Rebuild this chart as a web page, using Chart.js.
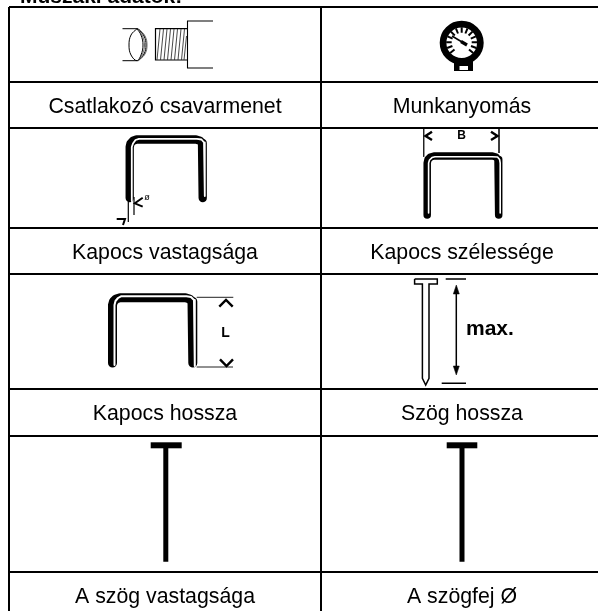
<!DOCTYPE html>
<html><head><meta charset="utf-8">
<style>html,body{margin:0;padding:0;background:#fff;overflow:hidden}canvas{display:block}</style>
<script src="https://cdn.jsdelivr.net/npm/chart.js@4"></script>
</head><body><canvas id="c" width="598" height="611"></canvas>
<script>
// Table rules
const rowLines = [7, 82, 128, 228, 274, 389, 436, 572];
const colLines = [9, 321];
// Text labels [text, x, baseline y]
const title = ['Műszaki adatok:', 20, 3];
const captions = [
  ['Csatlakozó csavarmenet', 165, 113], ['Munkanyomás', 462, 113],
  ['Kapocs vastagsága', 165, 259], ['Kapocs szélessége', 462, 259],
  ['Kapocs hossza', 165, 420], ['Szög hossza', 462, 420],
  ['A szög vastagsága', 165, 603], ['A szögfej Ø', 462, 603]
];
const marks = [['ø', 147, 198, 9, 'normal'], ['B', 461.5, 136, 12, 'bold'], ['L', 225.5, 333, 14, 'bold'], ['max.', 466, 329, 21, 'bold']];

// Connector
const pipeLines = [[122.5,28.7],[138,28.7],null,[122.5,60.7],[138,60.7]];
const threadFront = [[137,28.7],[131,35],[129,45],[131,55],[137,60.7],[141,55],[143,45],[141,35],[137,28.7]];
const threadArcA = [[138,28.7],[144,36],[146,45],[144,54],[138,60.7]];
const threadArcB = [[137.5,28.7],[142.5,36],[144.5,45],[142.5,54],[137.5,60.7]];
const threadArcC = [[138.5,28.7],[145,36],[147,45],[145,54],[138.5,60.7]];
const stubOutline = [[187,28.7],[155.5,28.7],[155.5,60],[187,60]];
const stubHatch = [[157,60],[160,29],null,[160.5,60],[163.5,29],null,[164,60],[167,29],null,[167.5,60],[170.5,29],null,[171,60],[174,29],null,[174.5,60],[177.5,29],null,[178,60],[181,29],null,[181.5,60],[184.5,29],null,[184,60],[186.5,36]];
const housing = [[213,21],[187.5,21],[187.5,68],[213,68]];

// Gauge
const gaugeRing = [[461.7,42.7]];
const gaugeBase = [[454,65.5],[473,65.5]];
const gaugeWindow = [[459.5,68],[468,68]];
const gaugeTicks = [[454.5,49.5],[450.2,53.1],null,[452.4,46],[447.1,48],null,[451.7,42.3],[446.2,42.2],null,[452.6,38.6],[447.5,36.4],null,[454.8,35.5],[450.9,31.6],null,[458,33.5],[455.9,28.3],null,[461.7,32.7],[461.7,27.2],null,[465.4,33.5],[467.5,28.3],null,[468.6,35.5],[472.5,31.6],null,[470.8,38.6],[475.9,36.4],null,[471.7,42.3],[477.2,42.2],null,[471,46],[476.3,48],null,[469,49.5],[473.2,53.1]];
const gaugeNeedleThin = [[452,36],[462,42]];
const gaugeNeedleThick = [[461,41.5],[467,45]];

// Staple, thickness
const stapleA = [[129.7,198],[129.7,147],[130.5,143.5],[133,140.7],[136.5,139.5],[196,139.5],[200,140.7],[202,143],[202.7,147],[202.7,198]];
const stapleAShine = [[131.8,201],[131.8,147],[133,143.5],[135.5,140],[139,138.8],[197,138.8],[201.5,139.5],[204,142.5],[204.8,147],[204.8,196]];
const dimA = [[128.3,201.7],[128.3,222],null,[134,197],[134,215]];
const chevA = [[142.7,197.7],[134.8,203.3],[142.7,206.7],null,[116.7,219],[125,219],[123,225]];
// Staple, width
const stapleB = [[427.2,215],[427.2,163],[428,159.5],[430.5,157],[434,156],[492.5,156],[496,157],[498,159.5],[498.7,163],[498.7,215]];
const stapleBShine = [[428.6,213],[428.6,163],[429.5,160],[432,157.6],[435,156.8],[492,156.8],[497.5,157],[499.6,159.5],[500.2,163],[500.2,213]];
const dimB = [[423.7,129],[423.7,156.7],null,[499,129],[499,153]];
const chevB = [[432,131.7],[425.5,136],[432,140],null,[491,131.7],[497.5,136],[491,140]];
// Staple, length
const stapleC = [[112.5,363],[112.5,305],[113.5,301.5],[116,299],[120,297.8],[185.5,297.8],[189.5,299],[192,301.5],[192.8,305],[192.8,363]];
const stapleCShine = [[114.5,365],[114.5,305],[115.5,301],[118,298],[121,296.3],[186.5,296.3],[191,297],[194,300],[194.8,305],[194.8,366]];
const dimC = [[196.7,297.3],[233.3,297.3],null,[196.7,367],[233,367]];
const chevC = [[219.3,306.7],[226,300],[232.7,306.7],null,[220,359.3],[226.5,366],[233,359.3]];

// Nail, length
const nailOutline = [[414.6,279],[437.3,279],[437.3,284],[429,284],[429,378.3],[425.7,385],[422.4,378.3],[422.4,284],[414.6,284],[414.6,279]];
const nailDim = [[445.7,279],[466,279],null,[441.7,383.3],[466,383.3],null,[456.3,290],[456.3,370]];
const arrowUp = [[456.3,285],[459.3,294],[453.3,294],[456.3,285]];
const arrowDown = [[456.3,375],[459.3,366],[453.3,366],[456.3,375]];

// Plain nails
const plainHeadL = [[150.7,445.3],[181.7,445.3]];
const plainShankL = [[165.8,448],[165.8,561.7]];
const plainHeadR = [[446.7,445.3],[477.3,445.3]];
const plainShankR = [[462,448],[462,561.7]];

const BLACK = '#000', WHITE = '#fff';
const pts = a => a.map(p => p ? {x:p[0], y:p[1]} : {x:null, y:null});
const line = (a, w, color, extra) => Object.assign({
  data: pts(a), showLine: true, pointRadius: 0, borderWidth: w, borderColor: color,
  clip: false, borderCapStyle: 'butt', borderJoinStyle: 'miter', tension: 0, spanGaps: false
}, extra || {});
const round = {borderCapStyle:'round', borderJoinStyle:'round'};

const layers = [
  line(pipeLines, 1, BLACK),
  line(threadFront, 1, BLACK, {tension:0.4}),
  line(threadArcA, 1, BLACK, {tension:0.4}),
  line(threadArcB, 0.8, '#444', {tension:0.4}),
  line(threadArcC, 0.8, '#444', {tension:0.4}),
  line(stubOutline, 1.2, BLACK),
  line(stubHatch, 0.9, '#333'),
  line(housing, 1.1, BLACK),
  {data: pts(gaugeRing), showLine:false, pointRadius:18.65, pointBorderWidth:6.7, pointBorderColor:BLACK, pointBackgroundColor:WHITE, clip:false},
  line(gaugeBase, 11, BLACK),
  line(gaugeWindow, 4, WHITE),
  line(gaugeTicks, 2, BLACK),
  line(gaugeNeedleThin, 1.5, BLACK),
  line(gaugeNeedleThick, 3.2, BLACK),
  line(stapleA, 8.3, BLACK, round),
  line(stapleAShine, 1.8, WHITE, round),
  line(dimA, 1.2, BLACK),
  line(chevA, 2, BLACK),
  line(stapleB, 7.5, BLACK, round),
  line(stapleBShine, 1.6, WHITE, round),
  line(dimB, 1, '#222'),
  line(chevB, 2.4, BLACK),
  line(stapleC, 9, BLACK, round),
  line(stapleCShine, 2, WHITE, round),
  line(dimC, 1, '#222'),
  line(chevC, 2.4, BLACK),
  line(nailOutline, 1.5, BLACK),
  line(nailDim, 1.5, BLACK),
  line(arrowUp, 0.5, BLACK, {fill:'shape', backgroundColor:BLACK}),
  line(arrowDown, 0.5, BLACK, {fill:'shape', backgroundColor:BLACK}),
  line(plainHeadL, 6, BLACK),
  line(plainShankL, 5, BLACK),
  line(plainHeadR, 6, BLACK),
  line(plainShankR, 5, BLACK)
];
layers.forEach((d, i) => { d.order = layers.length - i; });

const textPlugin = {
  id: 'tableText',
  afterDatasetsDraw(chart) {
    const {ctx, scales:{x, y}} = chart;
    const put = (t, px, py, font, align, base) => {
      ctx.font = font; ctx.textAlign = align; ctx.textBaseline = base; ctx.fillStyle = BLACK;
      ctx.fillText(t, x.getPixelForValue(px), y.getPixelForValue(py));
    };
    ctx.save();
    put(title[0], title[1], title[2], 'bold 21px "Liberation Sans"', 'left', 'alphabetic');
    captions.forEach(c => put(c[0], c[1], c[2], '21.3px "Liberation Sans"', 'center', 'alphabetic'));
    marks.forEach(m => {
      const isLeft = m[0] === 'max.';
      put(m[0], m[1], m[2], m[4] + ' ' + m[3] + 'px "Liberation Sans"', isLeft ? 'left' : 'center', 'middle');
    });
    ctx.restore();
  }
};

new Chart(document.getElementById('c'), {
  type: 'scatter',
  data: {datasets: layers},
  plugins: [textPlugin],
  options: {
    responsive: false, animation: false, events: [],
    layout: {autoPadding: false, padding: {left: 9, top: 7, right: 0, bottom: 0}},
    plugins: {legend: {display: false}, tooltip: {enabled: false}},
    scales: {
      x: {type:'linear', min: 9, max: 598, border:{display:false},
        grid:{color:BLACK, lineWidth:2, drawTicks:false},
        ticks:{display:false, autoSkip:false},
        afterBuildTicks: s => { s.ticks = colLines.map(v => ({value:v})); }},
      y: {type:'linear', min: 7, max: 611, reverse:true, border:{display:false},
        grid:{color:BLACK, lineWidth:2, drawTicks:false},
        ticks:{display:false, autoSkip:false},
        afterBuildTicks: s => { s.ticks = rowLines.map(v => ({value:v})); }}
    }
  }
});
</script></body></html>
